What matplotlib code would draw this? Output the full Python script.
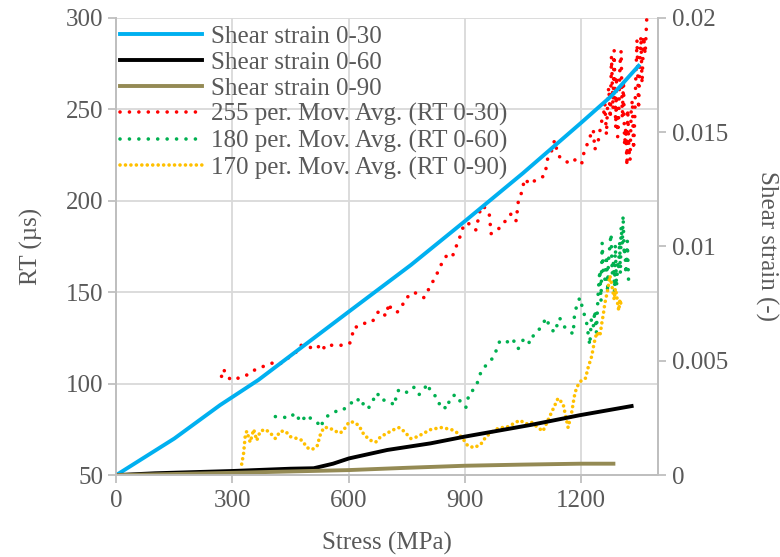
import matplotlib
matplotlib.use("Agg")
import matplotlib.pyplot as plt
import numpy as np

plt.rcParams['font.family'] = ['Liberation Serif', 'DejaVu Serif']

# shear strain curves (stress MPa, strain -)
s30 = [0, 150, 268, 367, 600, 761, 900, 1050, 1200, 1280, 1349]
e30 = [0, 0.0016, 0.00306, 0.00416, 0.00714, 0.00919, 0.0111, 0.0132, 0.0154, 0.0166, 0.0179]
s60 = [0, 100, 300, 450, 510, 560, 601, 700, 812, 899, 1072, 1197, 1331]
e60 = [0, 0.00008, 0.00018, 0.00028, 0.0003, 0.0005, 0.00073, 0.0011, 0.00139, 0.00168, 0.0022, 0.00262, 0.00302]
s90 = [0, 150, 300, 450, 600, 750, 900, 1050, 1200, 1284]
e90 = [0, 0.00005, 0.0001, 0.00016, 0.00022, 0.00032, 0.00041, 0.00046, 0.0005, 0.0005]

# moving averages of RT (stress MPa, RT us)
rs30 = [272, 277, 284, 296, 333, 350, 367, 385, 400, 412, 424, 439, 454, 471, 477, 497,
        519, 527, 539, 552, 564, 584, 603, 610, 614, 623, 638, 649, 662, 670, 679, 687,
        696, 705, 709, 725, 735, 748, 758, 769, 795, 813, 826, 839, 856, 869, 878, 889,
        895, 903, 916, 929, 942, 955, 964, 968, 986, 994, 1012, 1020, 1033, 1038, 1046,
        1055, 1068, 1081, 1094, 1107, 1115, 1124, 1132, 1141, 1154, 1167, 1180, 1193,
        1202, 1206, 1215, 1219, 1228, 1232, 1236, 1245, 1253, 1258, 1262, 1266, 1270,
        1272, 1276, 1279, 1283, 1286, 1290, 1292, 1295, 1298, 1301, 1304, 1307, 1310,
        1313, 1316, 1319, 1321, 1324, 1327, 1330, 1333, 1336, 1339, 1342, 1345, 1349,
        1352, 1355, 1358, 1362, 1366, 1370, 1375]
rt30 = [104, 108, 105, 102, 104, 107, 108, 110, 111, 112, 111, 113, 116, 118, 121, 120,
        119, 122, 119, 121, 121, 121, 122, 127, 131, 131, 133, 133, 134, 137, 140, 139,
        137, 144, 141, 139, 141, 147, 148, 150, 147, 154, 159, 165, 171, 170, 175, 181,
        185, 188, 187, 184, 197, 196, 192, 182, 184, 187, 190, 193, 189, 199, 204,
        212, 209, 211, 212, 214, 224, 227, 233, 225, 222, 221, 223, 221,
        220, 225, 230, 233, 237, 239, 228, 233, 243, 246, 253, 236, 258,
        262, 245, 279, 250, 282, 240, 268, 235, 248, 275, 282, 245, 266,
        230, 240, 219, 250, 228, 222, 250, 255, 228, 244, 268, 288, 250,
        273, 290, 264, 290, 280, 299, 301]

rs60 = [411, 428, 445, 463, 476, 493, 502, 519, 527, 536, 549, 562, 575, 588, 601, 614,
        623, 631, 644, 653, 666, 674, 683, 696, 709, 718, 726, 739, 752, 769, 782, 795,
        804, 813, 826, 834, 839, 852, 865, 878, 895, 903, 912, 925, 938, 942, 955, 968,
        977, 981, 990, 1003, 1016, 1025, 1038, 1046, 1059, 1068, 1081, 1094, 1111, 1119,
        1132, 1145, 1158, 1171, 1180, 1184, 1197, 1206, 1215,
        1223, 1227, 1232, 1236, 1240, 1245, 1249, 1252, 1255, 1258, 1262, 1266, 1269,
        1271, 1275, 1278, 1281, 1284, 1287, 1289, 1292, 1295, 1297, 1300, 1302, 1304,
        1307, 1309, 1312, 1314, 1316, 1318, 1320, 1323, 1327]
rt60 = [82, 82, 81, 84, 79, 83, 81, 79, 76, 80, 83, 84, 86, 86, 89, 90,
        92, 88, 90, 87, 92, 95, 91, 91, 90, 88, 96, 97, 95, 98, 94, 97,
        100, 95, 93, 89, 90, 86, 93, 94, 88, 87, 95, 97, 103, 107, 110, 113,
        115, 118, 123, 124, 122, 124, 119, 123, 125, 122, 128, 130, 136, 131,
        128, 136, 131, 129, 127, 139, 147, 140, 133,
        121, 135, 131, 140, 128, 151, 162, 145, 177, 160, 157, 170, 150,
        166, 176, 182, 160, 166, 150, 176, 153, 165, 162, 178, 160, 186,
        176, 192, 170, 175, 160, 166, 178, 157, 159]

rs90 = [324, 329, 333, 337, 346, 355, 363, 372, 385, 398, 411, 424, 437, 450, 467, 480,
        493, 506, 519, 527, 536, 549, 566, 579, 592, 601, 614, 627, 640, 657, 670, 683,
        700, 718, 731, 743, 761, 778, 795, 813, 839, 865, 882, 895, 908, 925, 942, 955,
        973, 990, 1007, 1025, 1042, 1059, 1072, 1089, 1102, 1115, 1128, 1141, 1154,
        1163, 1167, 1176, 1183, 1189, 1202, 1212, 1219, 1228, 1234, 1241, 1249, 1254,
        1258, 1262, 1269, 1275, 1279, 1283, 1286, 1289, 1292, 1296, 1298, 1301, 1304]
rt90 = [56, 62, 71, 74, 68, 75, 69, 74, 75, 73, 70, 74, 74, 71, 70, 69,
        65, 64, 66, 72, 76, 76, 74, 73, 76, 79, 79, 77, 72, 69, 68, 71,
        73, 75, 76, 74, 70, 71, 73, 75, 76, 75, 73, 70, 66, 65, 67, 71,
        74, 76, 76, 78, 80, 78, 79, 76, 74, 80, 86, 92, 89,
        80, 76, 84, 93, 98, 102, 103, 109, 115, 122, 128, 126, 133,
        138, 144, 151, 159, 155, 150, 146, 152, 149, 142, 140, 146, 143]

grey = '#595959'
fs = 18

fig = plt.figure(figsize=(7.8, 5.57), dpi=100)
ax = fig.add_axes([0.149, 0.147, 0.695, 0.821])
ax2 = ax.twinx()

l4, = ax.plot(rs30, rt30, color='#ff0000', lw=2.6, dashes=(0.01, 2.6), dash_capstyle='round',
              label='255 per. Mov. Avg. (RT 0-30)')
l5, = ax.plot(rs60, rt60, color='#00b050', lw=2.6, dashes=(0.01, 2.6), dash_capstyle='round',
              label='180 per. Mov. Avg. (RT 0-60)')
l6, = ax.plot(rs90, rt90, color='#ffc000', lw=2.6, dashes=(0.01, 1.5), dash_capstyle='round',
              label='170 per. Mov. Avg. (RT 0-90)')

l1, = ax2.plot(s30, e30, color='#00b0f0', lw=2.8, label='Shear strain 0-30')
l2, = ax2.plot(s60, e60, color='#000000', lw=2.8, label='Shear strain 0-60')
l3, = ax2.plot(s90, e90, color='#948a54', lw=2.8, label='Shear strain 0-90')

ax.set_xlim(0, 1400)
ax.set_ylim(50, 300)
ax2.set_ylim(0, 0.02)
ax.set_xticks([0, 300, 600, 900, 1200])
ax.set_yticks([50, 100, 150, 200, 250, 300])
ax2.set_yticks([0, 0.005, 0.01, 0.015, 0.02])
ax2.set_yticklabels(['0', '0.005', '0.01', '0.015', '0.02'])

ax.grid(True, color='#d9d9d9', lw=1.3)
ax.set_axisbelow(True)
for a in (ax, ax2):
    for sp in a.spines.values():
        sp.set_color('#bfbfbf')
        sp.set_linewidth(1.3)
    a.spines['top'].set_visible(False)
    a.tick_params(colors='#bfbfbf', labelcolor=grey, labelsize=fs, length=6, width=1.3)
ax.tick_params(axis='x', pad=5)

ax.set_xlabel('Stress (MPa)', color=grey, fontsize=fs, labelpad=14)
ax.set_ylabel('RT (µs)', color=grey, fontsize=fs, labelpad=16)
ax2.set_ylabel('Shear strain (-)', color=grey, fontsize=fs, rotation=270, labelpad=36)

ax2.legend(handles=[l1, l2, l3, l4, l5, l6], loc='upper left', bbox_to_anchor=(0.0, 0.992),
           frameon=False, fontsize=fs, labelcolor=grey, handlelength=3.3, handletextpad=0.36,
           labelspacing=0.14, borderaxespad=0, borderpad=0.15)

fig.savefig('out.png', dpi=100)
